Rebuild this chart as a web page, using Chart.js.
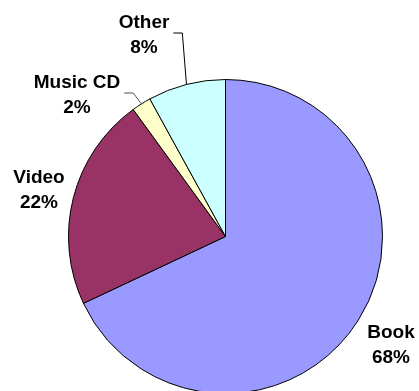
<!DOCTYPE html>
<html>
<head>
<meta charset="utf-8">
<style>
  html, body { margin: 0; padding: 0; background: #fff; overflow: hidden; }
  canvas { display: block; }
</style>
<script src="https://cdn.jsdelivr.net/npm/chart.js@4/dist/chart.umd.min.js"></script>
</head>
<body>
<canvas id="salesPie" width="419" height="391"></canvas>
<script>
// share of sales by product type, clockwise from 12 o'clock
const categories = ['Book', 'Video', 'Music CD', 'Other'];
const shares = [68, 22, 2, 8];
const sliceColors = ['#9999FF', '#993366', '#FFFFCC', '#CCFFFF'];

// label block centres (x, first baseline) and whether a leader line is drawn
const labelPos = [
  { x: 391, y: 338, leader: false },
  { x: 39, y: 183, leader: false },
  { x: 77, y: 88, leader: true },
  { x: 144, y: 28, leader: true }
];

const labelFont = 'bold 19px "Liberation Sans", Arial, sans-serif';
const lineGap = 25;

const pieLabels = {
  id: 'pieLabels',
  afterDraw(chart) {
    const ctx = chart.ctx;
    const arcs = chart.getDatasetMeta(0).data;
    const total = shares.reduce((a, b) => a + b, 0);
    ctx.save();
    ctx.font = labelFont;
    ctx.fillStyle = '#000';
    ctx.textAlign = 'center';
    ctx.textBaseline = 'alphabetic';
    arcs.forEach((arc, i) => {
      const p = labelPos[i];
      const pct = Math.round(shares[i] / total * 100) + '%';
      ctx.fillText(categories[i], p.x, p.y);
      ctx.fillText(pct, p.x, p.y + lineGap);
      if (p.leader) {
        const w = Math.max(ctx.measureText(categories[i]).width, ctx.measureText(pct).width);
        const ly = p.y + lineGap / 2 - 8;
        const x0 = p.x + w / 2 + 4;
        const x1 = x0 + 9;
        const mid = (arc.startAngle + arc.endAngle) / 2;
        const ex = arc.x + Math.cos(mid) * arc.outerRadius;
        const ey = arc.y + Math.sin(mid) * arc.outerRadius;
        ctx.strokeStyle = i === 2 ? '#555' : '#000';
        ctx.lineWidth = 1;
        ctx.beginPath();
        ctx.moveTo(x0, ly + 0.5);
        ctx.lineTo(x1, ly + 0.5);
        ctx.lineTo(ex, ey);
        ctx.stroke();
      }
    });
    ctx.restore();
  }
};

new Chart(document.getElementById('salesPie'), {
  type: 'pie',
  data: {
    labels: categories,
    datasets: [{
      data: shares,
      backgroundColor: sliceColors,
      borderColor: '#000',
      borderWidth: 1
    }]
  },
  options: {
    responsive: false,
    animation: false,
    radius: 157,
    layout: { padding: { left: 68, right: 36, top: 82, bottom: 0 } },
    plugins: {
      legend: { display: false },
      tooltip: { enabled: false }
    }
  },
  plugins: [pieLabels]
});
</script>
</body>
</html>
